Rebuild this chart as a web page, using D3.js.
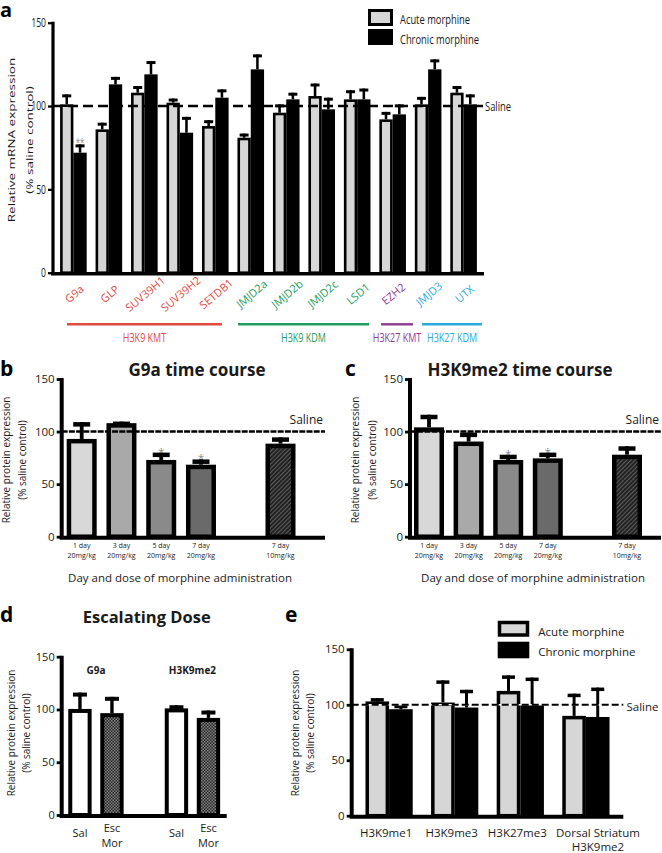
<!DOCTYPE html>
<html><head><meta charset="utf-8">
<script src="https://cdn.jsdelivr.net/npm/d3@7"></script>
<style>body{margin:0;background:#fff} text{font-family:'Open Sans',sans-serif}</style>
</head><body><svg id="c" width="662" height="853" style="background:#fff"></svg>
<script>
// ---------------- DATA ----------------
const yTicks = [0, 50, 100, 150];
// Panel a: mRNA
const genes = ["G9a","GLP","SUV39H1","SUV39H2","SETDB1","JMJD2a","JMJD2b","JMJD2c","LSD1","EZH2","JMJD3","UTX"];
const families = ["H3K9 KMT","H3K9 KDM","H3K27 KMT","H3K27 KDM"];
const geneFamily = ["H3K9 KMT","H3K9 KMT","H3K9 KMT","H3K9 KMT","H3K9 KMT","H3K9 KDM","H3K9 KDM","H3K9 KDM","H3K9 KDM","H3K27 KMT","H3K27 KDM","H3K27 KDM"];
const mrnaAcute      = [101, 86, 108, 102, 88, 81, 96, 106, 104, 92, 101, 108];
const mrnaAcuteErr   = [6, 4, 4, 2.5, 3.5, 2.5, 5, 7.5, 5.5, 4.5, 4.5, 4];
const mrnaChronic    = [72, 113, 119, 84, 105, 122, 104, 98, 104, 95, 122, 101];
const mrnaChronicErr = [5, 4.5, 8, 9.5, 5, 9, 4, 7, 6.5, 6, 6, 6];
const mrnaChronicSig = ["**","","","","","","","","","","",""];
const seriesNames = ["Acute morphine","Chronic morphine"];
// Panels b, c: time course
const tcDays  = ["1 day","3 day","5 day","7 day","7 day"];
const tcDoses = ["20mg/kg","20mg/kg","20mg/kg","20mg/kg","10mg/kg"];
const tcSlot  = [0, 1, 2, 3, 5];
const g9aTime    = [93, 108, 73, 68.5, 88.5];
const g9aTimeErr = [16, 1.5, 7, 5, 6];
const g9aSig     = ["","","*","*",""];
const h3k9Time    = [104, 90.5, 73, 74.5, 78];
const h3k9TimeErr = [12, 8.5, 5, 5.5, 8];
const h3k9Sig     = ["","","*","*",""];
// Panel d: escalating dose
const escGroups = ["G9a","H3K9me2"];
const escConds  = ["Sal","Esc Mor"];
const escValues = [[100.5, 96.5], [101, 92]];
const escErr    = [[15.5, 15.5], [3, 7]];
// Panel e
const marks = ["H3K9me1","H3K9me3","H3K27me3","Dorsal Striatum|H3K9me2"];
const eAcute      = [103, 102, 112.5, 90];
const eAcuteErr   = [3, 20, 14, 20];
const eChronic    = [96, 97.5, 100.5, 89];
const eChronicErr = [4, 16, 24, 26.5];

// ---------------- STYLE ----------------
const GRAY = "#d6d6d6";
const famColor = {"H3K9 KMT":"#e2493f","H3K9 KDM":"#1e9d5c","H3K27 KMT":"#8d3995","H3K27 KDM":"#2ea8de"};
const tcFills = ["#d8d8d8","#a9a9a9","#8a8a8a","#6a6a6a","url(#hatch)"];
const SQ = 0.72;
const INK = "#1a1a1a";

const svg = d3.select("#c");
const defs = svg.append("defs");
const ph = defs.append("pattern").attr("id","hatch").attr("width",3).attr("height",3)
  .attr("patternUnits","userSpaceOnUse").attr("patternTransform","rotate(45)");
ph.append("rect").attr("width",3).attr("height",3).attr("fill","#222");
ph.append("rect").attr("width",1).attr("height",3).attr("fill","#5c5c5c");
const pc = defs.append("pattern").attr("id","checker").attr("width",3).attr("height",3).attr("patternUnits","userSpaceOnUse");
pc.append("rect").attr("width",3).attr("height",3).attr("fill","#1e1e1e");
pc.append("rect").attr("width",1.5).attr("height",1.5).attr("fill","#8a8a8a");
pc.append("rect").attr("x",1.5).attr("y",1.5).attr("width",1.5).attr("height",1.5).attr("fill","#8a8a8a");

function txt(x, y, s, o = {}) {
  const g = svg.append("g").attr("transform",
    `translate(${x},${y})` + (o.sx ? ` scale(${o.sx},1)` : "") + (o.rot ? ` rotate(${o.rot})` : ""));
  return g.append("text")
    .attr("font-size", o.fs || 11)
    .attr("font-weight", o.bold ? "bold" : null)
    .attr("text-anchor", o.anchor || "start")
    .attr("fill", o.fill || INK)
    .attr("dy", o.dy || null)
    .text(s);
}
function yAxis(y, x, fs, sw, sx) {
  const g = svg.append("g").attr("transform", `translate(${x},0)`)
    .call(d3.axisLeft(y).tickValues(yTicks).tickSize(5).tickPadding(2).tickSizeOuter(0));
  g.select(".domain").attr("stroke", "#000").attr("stroke-width", sw)
    .attr("d", `M0,${y.range()[0] + sw/2}V${y.range()[1] - 1}`);
  g.selectAll(".tick line").attr("stroke", "#000").attr("stroke-width", Math.max(2, sw * 0.7));
  g.selectAll(".tick text").attr("font-size", fs).attr("fill", INK).attr("font-family", "'Open Sans',sans-serif");
  if (sx) g.selectAll(".tick text").attr("x", null).attr("transform", `translate(-7,0) scale(${sx},1)`);
}
function xLine(y0, x0, x1, sw) {
  svg.append("line").attr("x1", x0).attr("x2", x1).attr("y1", y0).attr("y2", y0)
    .attr("stroke", "#000").attr("stroke-width", sw);
}
function bar(x, w, y, v, fill, sw) {
  svg.append("rect").attr("x", x + sw/2).attr("width", w - sw)
    .attr("y", y(v) + sw/2).attr("height", y(0) - y(v) - sw/2)
    .attr("fill", fill).attr("stroke", "#000").attr("stroke-width", sw);
}
function err(cx, y, v, e, capW, sw) {
  svg.append("line").attr("x1", cx).attr("x2", cx).attr("y1", y(v)).attr("y2", y(v + e))
    .attr("stroke", "#000").attr("stroke-width", sw * 0.85);
  svg.append("line").attr("x1", cx - capW/2).attr("x2", cx + capW/2).attr("y1", y(v + e) + sw/2).attr("y2", y(v + e) + sw/2)
    .attr("stroke", "#000").attr("stroke-width", sw);
}
function saline(y, x0, x1, sw, dash, white) {
  if (white) svg.append("line").attr("x1", x0).attr("x2", x1).attr("y1", y(100)).attr("y2", y(100))
    .attr("stroke", "#fff").attr("stroke-width", sw * 0.6);
  svg.append("line").attr("x1", x0).attr("x2", x1).attr("y1", y(100)).attr("y2", y(100))
    .attr("stroke", "#000").attr("stroke-width", sw).attr("stroke-dasharray", dash);
}

// ---------------- PANEL A ----------------
{
  const y = d3.scaleLinear().domain([0, 150]).range([272.7, 22.7]);
  const x = d3.scaleBand().domain(genes).range([53, 484]).paddingInner(0.25).paddingOuter(0.2);
  const xs = d3.scaleBand().domain(seriesNames).range([0, x.bandwidth()]);
  const sw = 2.6;
  genes.forEach((g, i) => {
    const xa = x(g) + xs(seriesNames[0]), xc = x(g) + xs(seriesNames[1]), w = xs.bandwidth();
    err(xa + w/2, y, mrnaAcute[i], mrnaAcuteErr[i], 9, 3);
    err(xc + w/2, y, mrnaChronic[i], mrnaChronicErr[i], 9, 3);
    bar(xa, w, y, mrnaAcute[i], GRAY, sw);
    bar(xc, w, y, mrnaChronic[i], "#000", sw);
    if (mrnaChronicSig[i]) txt(xc + w/2, y(mrnaChronic[i] + mrnaChronicErr[i]) + 2, mrnaChronicSig[i], {fs: 11, anchor: "middle", fill: "#888", sx: SQ});
  });
  // rotated gene labels
  svg.append("g").selectAll("g").data(genes).join("g")
    .attr("transform", g => `translate(${x(g) + x.bandwidth()/2 + 1},294) rotate(-40)`)
    .append("text")
    .attr("text-anchor", "middle").attr("dy", "0.35em").attr("font-size", 11)
    .attr("fill", (g, i) => famColor[geneFamily[i]])
    .text(g => g);
  saline(y, 53, 484, 2.6, "10,5");
  yAxis(y, 53, 12, 3.2, SQ);
  xLine(y(0) + 1, 51, 484, 3.5);
  txt(485, 111, "Saline", {fs: 13, sx: SQ});
  // family brackets
  const famExt = {"H3K9 KMT":[67,222],"H3K9 KDM":[238,369],"H3K27 KMT":[381,413],"H3K27 KDM":[422,482]};
  families.forEach(f => {
    const [x0, x1] = famExt[f];
    svg.append("line").attr("x1", x0).attr("x2", x1).attr("y1", 324.3).attr("y2", 324.3)
      .attr("stroke", famColor[f]).attr("stroke-width", 2.4);
    txt((x0 + x1)/2, 342, f, {fs: 12.5, anchor: "middle", sx: SQ, fill: famColor[f]});
  });
  txt(12, 140, "Relative mRNA expression", {fs: 13.5, anchor: "middle", dy: "0.35em", sx: SQ, rot: -90});
  txt(30, 140, "(% saline control)", {fs: 13.5, anchor: "middle", dy: "0.35em", sx: SQ, rot: -90});
  // legend
  svg.append("rect").attr("x", 369.5).attr("y", 10.5).attr("width", 22).attr("height", 14).attr("fill", GRAY).attr("stroke", "#000").attr("stroke-width", 3);
  svg.append("rect").attr("x", 368).attr("y", 29).attr("width", 25).attr("height", 16).attr("fill", "#000");
  txt(400, 24, seriesNames[0], {fs: 13, sx: SQ});
  txt(400, 44, seriesNames[1], {fs: 13, sx: SQ});
  txt(0, 17, "a", {fs: 20, bold: true, fill: "#000"});
}

// ---------------- PANELS B, C ----------------
function timeCourse(o) {
  const y = d3.scaleLinear().domain([0, 150]).range([536.7, 379]);
  const x = d3.scaleLinear().domain([0, 5]).range(o.centers);
  const w = 30, sw = 4.5;
  o.vals.forEach((v, i) => {
    const cx = x(tcSlot[i]);
    err(cx, y, v, o.errs[i], 17, 4.5);
    bar(cx - w/2, w, y, v, tcFills[i], sw);
    if (o.sig[i]) txt(cx, y(v + o.errs[i]) + 3, o.sig[i], {fs: 11, anchor: "middle", fill: "#888"});
    txt(cx, 548, tcDays[i], {fs: 7, anchor: "middle"});
    txt(cx, 557.8, tcDoses[i], {fs: 7, anchor: "middle"});
  });
  saline(y, o.ax, o.right, 2.4, "6,1.2");
  yAxis(y, o.ax, 11.5, 4);
  xLine(y(0) + 1, o.ax - 2, o.right, 4);
  txt(o.right - 2, 424, "Saline", {fs: 12, anchor: "end"});
  txt(o.titleX, 376, o.title, {fs: 17, bold: true, anchor: "middle"});
  txt(o.xtX, 582, "Day and dose of morphine administration", {fs: 11.5, anchor: "middle"});
  txt(o.yt[0], 460, "Relative protein expression", {fs: 10, anchor: "middle", dy: "0.35em", rot: -90});
  txt(o.yt[1], 460, "(% saline control)", {fs: 10, anchor: "middle", dy: "0.35em", rot: -90});
  txt(o.letter[0], 376, o.letter[1], {fs: 21, bold: true, fill: "#000"});
}
timeCourse({centers: [81.7, 280.5], vals: g9aTime, errs: g9aTimeErr, sig: g9aSig, ax: 61.7, right: 325,
  title: "G9a time course", titleX: 197, xtX: 180, yt: [6, 22], letter: [0, "b"]});
timeCourse({centers: [429, 627], vals: h3k9Time, errs: h3k9TimeErr, sig: h3k9Sig, ax: 410, right: 661,
  title: "H3K9me2 time course", titleX: 520, xtX: 533, yt: [355, 372], letter: [345, "c"]});

// ---------------- PANEL D ----------------
{
  const y = d3.scaleLinear().domain([0, 150]).range([815, 656.7]);
  const x = d3.scaleBand().domain(escGroups).range([61.7, 226.7]).paddingInner(0.426).paddingOuter(0.068);
  const xs = d3.scaleBand().domain(escConds).range([0, x.bandwidth()]).paddingInner(0.27).paddingOuter(0);
  const sw = 4;
  escGroups.forEach((g, gi) => {
    escConds.forEach((c, ci) => {
      const bx = x(g) + xs(c), w = xs.bandwidth();
      err(bx + w/2, y, escValues[gi][ci], escErr[gi][ci], 14, 4);
      bar(bx, w, y, escValues[gi][ci], ci === 0 ? "#fff" : "url(#checker)", sw);
      const parts = c.split(" ");
      if (parts.length === 1) txt(bx + w/2, 837, parts[0], {fs: 11, anchor: "middle"});
      else { txt(bx + w/2, 832, parts[0], {fs: 11, anchor: "middle"}); txt(bx + w/2, 847, parts[1], {fs: 11, anchor: "middle"}); }
    });
    txt(x(g) + x.bandwidth()/2, 674, g, {fs: 10, bold: true, anchor: "middle"});
  });
  yAxis(y, 61.7, 11, 4);
  xLine(y(0) + 1, 59.7, 226.7, 4);
  txt(146.7, 623, "Escalating Dose", {fs: 16.5, bold: true, anchor: "middle"});
  txt(11.7, 733, "Relative protein expression", {fs: 10, anchor: "middle", dy: "0.35em", rot: -90});
  txt(26.7, 733, "(% saline control)", {fs: 10, anchor: "middle", dy: "0.35em", rot: -90});
  txt(0, 622, "d", {fs: 21, bold: true, fill: "#000"});
}

// ---------------- PANEL E ----------------
{
  const y = d3.scaleLinear().domain([0, 150]).range([815.7, 649.3]);
  const x = d3.scaleBand().domain(marks).range([351.7, 623.3]).paddingInner(0.28).paddingOuter(0.21);
  const xs = d3.scaleBand().domain(seriesNames).range([0, x.bandwidth()]);
  const sw = 3.5;
  marks.forEach((m, i) => {
    const xa = x(m) + xs(seriesNames[0]), xc = x(m) + xs(seriesNames[1]), w = xs.bandwidth();
    err(xa + w/2, y, eAcute[i], eAcuteErr[i], 13, 3.5);
    err(xc + w/2, y, eChronic[i], eChronicErr[i], 13, 3.5);
    bar(xa, w, y, eAcute[i], GRAY, sw);
    bar(xc, w, y, eChronic[i], "#000", sw);
    const lines = m.split("|"), cx = x(m) + x.bandwidth()/2 + (lines.length > 1 ? 12 : -3);
    lines.forEach((l, li) => txt(cx, 837 + li * 14, l, {fs: 11.5, anchor: "middle"}));
  });
  saline(y, 351.7, 623.3, 2.2, "7,3", true);
  yAxis(y, 351.7, 11.5, 4);
  xLine(y(0) + 1, 349.7, 623.3, 4);
  txt(626.5, 711, "Saline", {fs: 11.5});
  svg.append("rect").attr("x", 499.5).attr("y", 622.5).attr("width", 28).attr("height", 12.5).attr("fill", GRAY).attr("stroke", "#000").attr("stroke-width", 3.5);
  svg.append("rect").attr("x", 497.7).attr("y", 641.7).attr("width", 31.6).attr("height", 16.6).attr("fill", "#000");
  txt(538.3, 635.5, seriesNames[0], {fs: 11.5});
  txt(538.3, 655.5, seriesNames[1], {fs: 11.5});
  txt(295, 733, "Relative protein expression", {fs: 10, anchor: "middle", dy: "0.35em", rot: -90});
  txt(310, 733, "(% saline control)", {fs: 10, anchor: "middle", dy: "0.35em", rot: -90});
  txt(285, 622, "e", {fs: 21, bold: true, fill: "#000"});
}
</script></body></html>
